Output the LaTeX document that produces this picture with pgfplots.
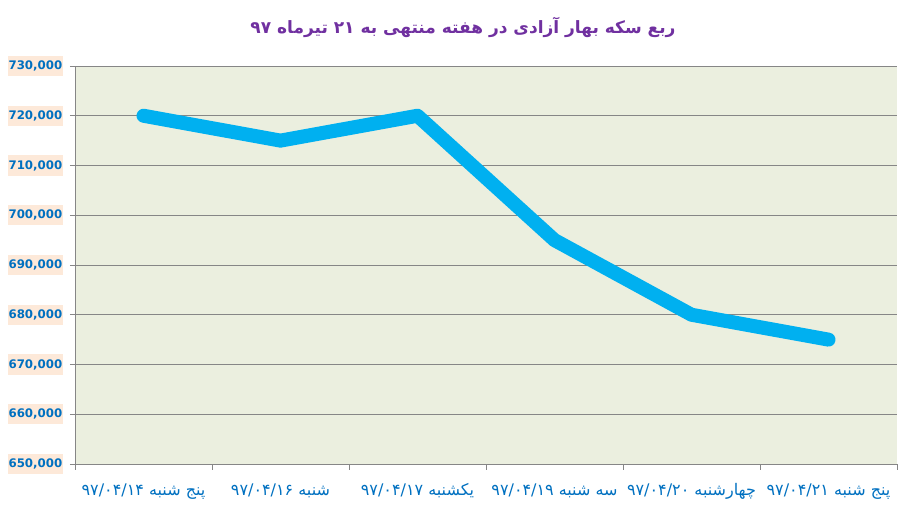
\documentclass[border=0pt]{standalone}
\usepackage{fontspec}
\usepackage{pgfplots}
\pgfplotsset{compat=1.18}
\setmainfont{DejaVu Sans}
\newfontfamily\arabicfont[Script=Arabic]{DejaVu Sans}
\TeXXeTstate=1

\definecolor{linecol}{HTML}{00B0F0}
\definecolor{bgcol}{HTML}{EBEFDF}
\definecolor{gridcol}{HTML}{868686}
\definecolor{labblue}{HTML}{0070C0}
\definecolor{peach}{HTML}{FDE9D9}
\definecolor{titlecol}{HTML}{7030A0}

\begin{document}
\begin{tikzpicture}
\begin{axis}[
    at={(0pt,0pt)}, anchor=south west,
    scale only axis,
    width=822pt, height=398pt,
    xmin=-0.5, xmax=5.5,
    ymin=650000, ymax=730000,
    scaled y ticks=false,
    ytick={650000,660000,670000,680000,690000,700000,710000,720000,730000},
    yticklabels={{650,000},{660,000},{670,000},{680,000},{690,000},{700,000},{710,000},{720,000},{730,000}},
    xtick={0,...,5},
    xticklabels={
        {\arabicfont\beginR پنج شنبه \beginL ۹۷/۰۴/۱۴\endL\endR},
        {\arabicfont\beginR شنبه \beginL ۹۷/۰۴/۱۶\endL\endR},
        {\arabicfont\beginR یکشنبه \beginL ۹۷/۰۴/۱۷\endL\endR},
        {\arabicfont\beginR سه شنبه \beginL ۹۷/۰۴/۱۹\endL\endR},
        {\arabicfont\beginR چهارشنبه \beginL ۹۷/۰۴/۲۰\endL\endR},
        {\arabicfont\beginR پنج شنبه \beginL ۹۷/۰۴/۲۱\endL\endR}
    },
    major x tick style={draw=none},
    minor xtick={-0.5,0.5,...,5.5},
    minor x tick style={draw=gridcol, thick},
    minor tick length=6pt,
    major tick length=5pt,
    tick align=outside,
    y tick style={draw=gridcol, thick},
    axis x line*=bottom,
    axis y line*=left,
    axis line style={draw=gridcol, thick, -},
    axis background/.style={fill=bgcol},
    ymajorgrids,
    grid style={draw=gridcol, thick},
    yticklabel style={font=\fontsize{11.8}{12}\selectfont\bfseries, text=labblue,
        fill=peach, inner xsep=0.5pt, inner ysep=5pt, xshift=-7pt},
    xticklabel style={font=\fontsize{16}{18}\selectfont, text=labblue, yshift=-11pt},
]
\addplot[color=linecol, line width=14pt, line cap=round, line join=round]
coordinates {
    (0,720000) (1,715000) (2,720000) (3,695000) (4,680000) (5,675000)
};
\end{axis}
\node[text=titlecol, font=\fontsize{17}{19}\selectfont\bfseries] at (388pt,437pt)
    {\arabicfont\beginR ربع سکه بهار آزادی در هفته منتهی به \beginL ۲۱\endL{} تیرماه \beginL ۹۷\endL\endR};
\pgfresetboundingbox
\path (-75pt,-50pt) rectangle (839pt,464pt);
\end{tikzpicture}
\end{document}
